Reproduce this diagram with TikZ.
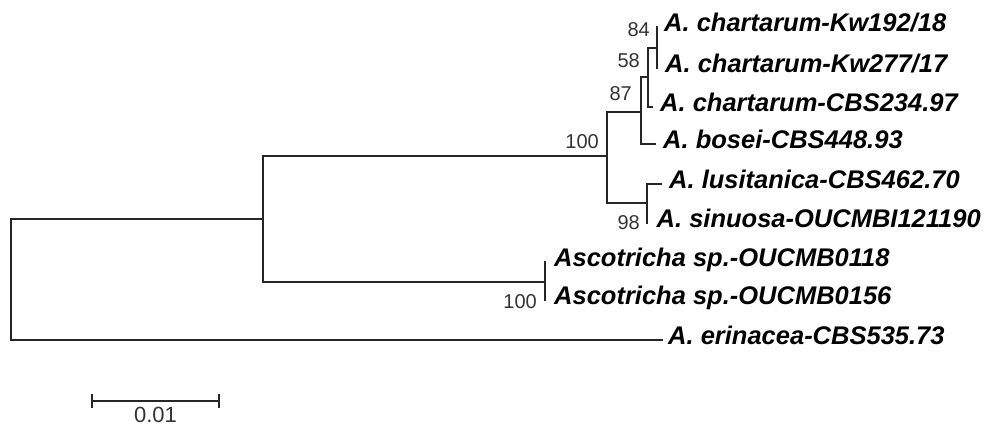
\documentclass[tikz,border=0pt]{standalone}
\usepackage{fontspec}
\setmainfont{Liberation Sans}
\usetikzlibrary{calc}
\begin{document}
\begin{tikzpicture}[x=1pt,y=-1pt,
  branch/.style={draw=black!85,line width=1.3pt,line cap=rect},
  taxon/.style={font=\fontsize{25.5}{30}\selectfont\bfseries\itshape,inner sep=0pt,anchor=base west},
  boot/.style={font=\fontsize{20}{24}\selectfont,text=black!80,inner sep=0pt,anchor=base east},
  scalebar/.style={draw=black!85,line width=1.3pt}]
\useasboundingbox (0,0) rectangle (993,428);

% internal nodes
\coordinate (root) at (11,279.5);
\coordinate (ing)  at (263,219);
\coordinate (n100) at (607,156);
\coordinate (n87)  at (641,112);
\coordinate (n58)  at (648,77);
\coordinate (n84)  at (657,48);
\coordinate (n98)  at (647,203);
\coordinate (nasc) at (545,282);

% tips
\coordinate (kw192) at (657,27);
\coordinate (kw277) at (657,68);
\coordinate (cbs234) at (652,107);
\coordinate (bosei) at (655,144);
\coordinate (lus) at (661,184);
\coordinate (sin) at (647.5,223);
\coordinate (a118) at (545,262);
\coordinate (a156) at (545,300);
\coordinate (eri) at (662,340);

% branches
\draw[branch] (root) |- (ing);
\draw[branch] (root) |- (eri);
\draw[branch] (ing) |- (n100);
\draw[branch] (ing) |- (nasc);
\draw[branch] (n100) |- (n87);
\draw[branch] (n100) |- (n98);
\draw[branch] (n87) |- (n58);
\draw[branch] (n87) |- (bosei);
\draw[branch] (n58) |- (n84);
\draw[branch] (n58) |- (cbs234);
\draw[branch] (n84) |- (kw192);
\draw[branch] (n84) |- (kw277);
\draw[branch] (n98) |- (lus);
\draw[branch] (n98) |- (sin);
\draw[branch] (nasc) |- (a118);
\draw[branch] (nasc) |- (a156);

% taxon names
\node[taxon] (t1) at ([xshift=7pt,yshift=-4.5pt]kw192) {A. chartarum-Kw192/18};
\node[taxon] (t2) at ([xshift=8pt,yshift=-4.5pt]kw277) {A. chartarum-Kw277/17};
\node[taxon] (t3) at ([xshift=8pt,yshift=-4.5pt]cbs234) {A. chartarum-CBS234.97};
\node[taxon] (t4) at ([xshift=8pt,yshift=-4.5pt]bosei) {A. bosei-CBS448.93};
\node[taxon] (t5) at ([xshift=8pt,yshift=-4.5pt]lus) {A. lusitanica-CBS462.70};
\node[taxon] (t6) at ([xshift=9pt,yshift=-4.5pt]sin) {A. sinuosa-OUCMBI121190};
\node[taxon] (t7) at ([xshift=9pt,yshift=-4.5pt]a118) {Ascotricha sp.-OUCMB0118};
\node[taxon] (t8) at ([xshift=9pt,yshift=-4.5pt]a156) {Ascotricha sp.-OUCMB0156};
\node[taxon] (t9) at ([xshift=6pt,yshift=-4.5pt]eri) {A. erinacea-CBS535.73};

% bootstrap values
\node[boot] (b84)  at ([xshift=-7pt,yshift=11pt]n84) {84};
\node[boot] (b58)  at ([xshift=-8pt,yshift=10pt]n58) {58};
\node[boot] (b87)  at ([xshift=-9pt,yshift=12pt]n87) {87};
\node[boot] (b100) at ([xshift=-8pt,yshift=8pt]n100) {100};
\node[boot] (b98)  at ([xshift=-7pt,yshift=-6pt]n98 |- sin) {98};
\node[boot] (b100a) at ([xshift=-8pt,yshift=-8pt]nasc |- a156) {100};

% scale bar
\coordinate (sbl) at (92,401);
\coordinate (sbr) at (219,401);
\coordinate (sbm) at ($(sbl)!0.5!(sbr)$);
\draw[scalebar] (sbl) -- (sbr);
\draw[scalebar] ([yshift=7pt]sbl) -- ([yshift=-7pt]sbl);
\draw[scalebar] ([yshift=7pt]sbr) -- ([yshift=-7pt]sbr);
\node[font=\fontsize{22}{26}\selectfont,text=black!80,inner sep=0pt,anchor=base] (sblab) at ([yshift=-21.5pt]sbm) {0.01};
\end{tikzpicture}
\end{document}
